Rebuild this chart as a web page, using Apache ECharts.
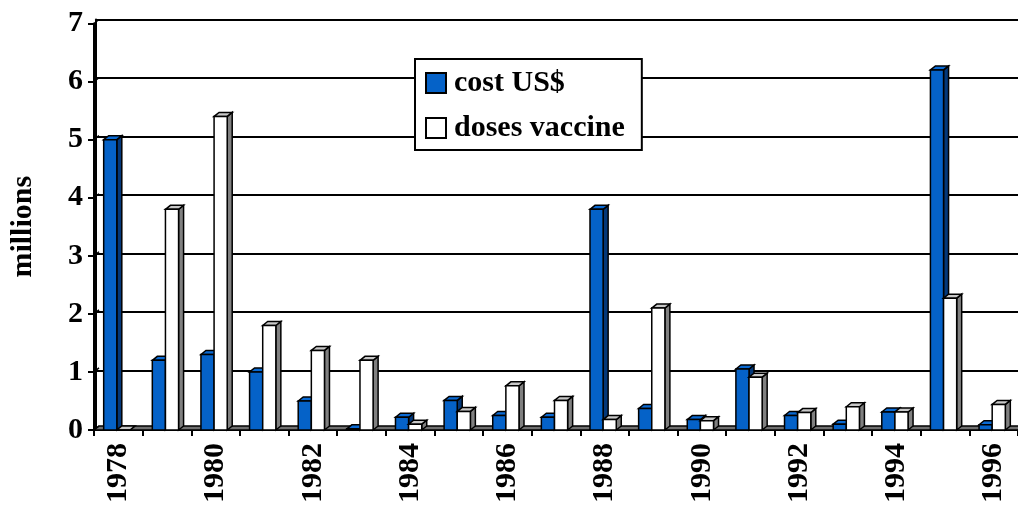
<!DOCTYPE html>
<html>
<head>
<meta charset="utf-8">
<script src="https://cdn.jsdelivr.net/npm/echarts@6/dist/echarts.min.js"></script>
<style>
  html, body { margin: 0; padding: 0; background: #fff; }
  #chart { width: 1018px; height: 506px; }
</style>
</head>
<body>
<div id="chart"></div>
<script>
// Annual figures, in millions
const years = ['1978', '1979', '1980', '1981', '1982', '1983', '1984', '1985', '1986', '1987',
               '1988', '1989', '1990', '1991', '1992', '1993', '1994', '1995', '1996'];
const costUSD = [5.0, 1.2, 1.3, 1.0, 0.5, 0.02, 0.22, 0.51, 0.25, 0.22,
                 3.8, 0.37, 0.18, 1.05, 0.25, 0.1, 0.31, 6.2, 0.09];
const dosesVaccine = [0, 3.8, 5.4, 1.8, 1.37, 1.2, 0.1, 0.32, 0.76, 0.51,
                      0.18, 2.1, 0.16, 0.91, 0.3, 0.4, 0.31, 2.27, 0.44];
const yTicks = [0, 1, 2, 3, 4, 5, 6, 7];

// Depth of the pseudo-3D extrusion (pixels right / up)
const DX = 5, DY = 4;
const FONT = 'Liberation Serif, Times New Roman, serif';
const BLUE = '#0562c8', BLUE_TOP = '#0a6ad4', BLUE_SIDE = '#03387a';
const WHITE = '#ffffff', WHITE_TOP = '#c8c8c8', WHITE_SIDE = '#808080';

function barRenderer(dir, front, top, side) {
  return function (params, api) {
    const i = api.value(0), v = api.value(1);
    const base = api.coord([i, 0]);
    const tip = api.coord([i, v]);
    const band = api.size([1, 0])[0];
    const bw = band * 0.27;
    const x0 = dir < 0 ? base[0] - bw - 1.5 : base[0] - 1.5;
    const x1 = x0 + bw;
    const yb = base[1], yt = tip[1];
    const stroke = { stroke: '#000', lineWidth: 1.5, lineJoin: 'miter' };
    return {
      type: 'group',
      children: [
        { type: 'polygon', shape: { points: [[x1, yt], [x1 + DX, yt - DY], [x1 + DX, yb - DY], [x1, yb]] },
          style: Object.assign({ fill: side }, stroke) },
        { type: 'polygon', shape: { points: [[x0, yt], [x0 + DX, yt - DY], [x1 + DX, yt - DY], [x1, yt]] },
          style: Object.assign({ fill: top }, stroke) },
        { type: 'rect', shape: { x: x0, y: yt, width: bw, height: yb - yt },
          style: Object.assign({ fill: front }, stroke) }
      ]
    };
  };
}

const chart = echarts.init(document.getElementById('chart'), null, { renderer: 'canvas' });

const labelFont = { fontFamily: FONT, fontWeight: 'bold', fontSize: 30, color: '#000' };

chart.setOption({
  animation: false,
  backgroundColor: '#fff',
  grid: [
    { left: 91, top: 23.5, width: 927, height: 409.5 },   // front plane
    { left: 96, top: 19.5, width: 927, height: 409.5 }    // back wall
  ],
  legend: {
    orient: 'vertical',
    left: 415, top: 59,
    padding: [9, 17, 7, 10],
    itemGap: 15,
    itemWidth: 20, itemHeight: 20,
    icon: 'rect',
    backgroundColor: '#fff',
    borderColor: '#000', borderWidth: 2,
    textStyle: Object.assign({ lineHeight: 30, padding: [0, 0, 0, 3] }, labelFont),
    data: ['cost US$', 'doses vaccine']
  },
  xAxis: [
    {
      type: 'category', gridIndex: 0, data: years, boundaryGap: true,
      axisLine: { lineStyle: { color: '#000', width: 2 } },
      axisTick: { show: true, length: 6, alignWithLabel: false, interval: 0, lineStyle: { color: '#000', width: 2 } },
      axisLabel: Object.assign({ interval: 1, rotate: 90, margin: 13 }, labelFont),
      splitLine: { show: false }
    },
    {
      type: 'category', gridIndex: 1, data: years, show: false
    }
  ],
  yAxis: [
    {
      type: 'value', gridIndex: 0, min: 0, max: 7, interval: 1,
      name: 'millions', nameLocation: 'middle', nameGap: 56, nameRotate: 90,
      nameTextStyle: labelFont,
      axisLine: { show: true, lineStyle: { color: '#000', width: 2 } },
      axisTick: { show: true, length: 6, lineStyle: { color: '#000', width: 2 } },
      axisLabel: Object.assign({ margin: 11 }, labelFont),
      splitLine: { show: false }
    },
    {
      type: 'value', gridIndex: 1, min: 0, max: 7, interval: 1,
      axisLine: { show: true, lineStyle: { color: '#000', width: 2 } },
      axisTick: { show: false },
      axisLabel: { show: false },
      splitLine: { show: true, lineStyle: { color: '#000', width: 2 } }
    }
  ],
  series: [
    {
      // floor of the plot
      type: 'custom', name: 'floor', xAxisIndex: 0, yAxisIndex: 0, silent: true, z: 1,
      data: [[0, 0]],
      renderItem: function (params, api) {
        const cs = params.coordSys;
        const y = cs.y + cs.height;
        return {
          type: 'polygon',
          shape: { points: [[cs.x, y], [cs.x + cs.width, y], [cs.x + cs.width + DX, y - DY], [cs.x + DX, y - DY]] },
          style: { fill: '#707070', stroke: '#000', lineWidth: 1.5 }
        };
      }
    },
    {
      // connectors from the front axis to the back wall at each tick
      type: 'custom', name: 'wall', xAxisIndex: 0, yAxisIndex: 0, silent: true, z: 1,
      data: yTicks.map(v => [0, v]),
      renderItem: function (params, api) {
        const x = params.coordSys.x;
        const y = api.coord([0, api.value(1)])[1];
        return {
          type: 'line',
          shape: { x1: x, y1: y, x2: x + DX, y2: y - DY },
          style: { stroke: '#000', lineWidth: 1.5 }
        };
      }
    },
    {
      type: 'custom', name: 'cost US$', xAxisIndex: 0, yAxisIndex: 0, z: 3,
      itemStyle: { color: BLUE, borderColor: '#000', borderWidth: 1.5 },
      encode: { x: 0, y: 1 },
      data: costUSD.map((v, i) => [i, v]),
      renderItem: barRenderer(-1, BLUE, BLUE_TOP, BLUE_SIDE)
    },
    {
      type: 'custom', name: 'doses vaccine', xAxisIndex: 0, yAxisIndex: 0, z: 3,
      itemStyle: { color: WHITE, borderColor: '#000', borderWidth: 1.5 },
      encode: { x: 0, y: 1 },
      data: dosesVaccine.map((v, i) => [i, v]),
      renderItem: barRenderer(1, WHITE, WHITE_TOP, WHITE_SIDE)
    }
  ]
});
</script>
</body>
</html>
